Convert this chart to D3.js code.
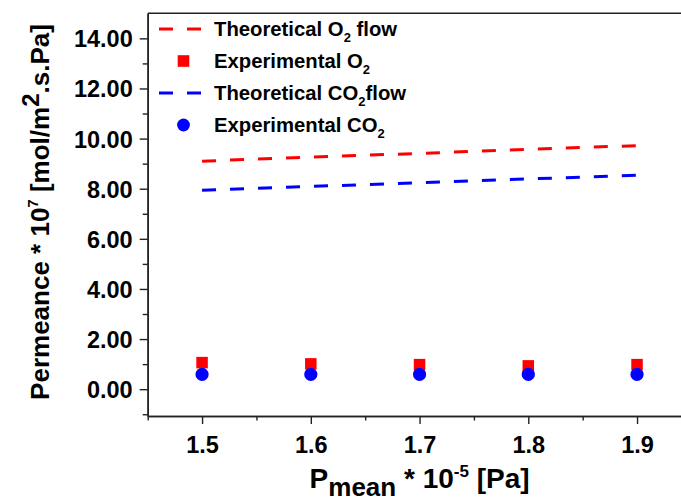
<!DOCTYPE html>
<html><head><meta charset="utf-8">
<script src="https://cdn.jsdelivr.net/npm/d3@7"></script>
<style>
body{margin:0;background:#fff}
text{font-family:Arial,"Liberation Sans",sans-serif;font-weight:bold;fill:#000}
</style>
</head><body><svg id="c" width="681" height="502"></svg>
<script>
// ---- data ----
const pressures = [1.5, 1.6, 1.7, 1.8, 1.9];
const theoO2    = [9.10, 9.26, 9.41, 9.57, 9.72];
const theoCO2   = [7.94, 8.09, 8.24, 8.39, 8.54];
const expO2     = [1.06, 1.01, 0.98, 0.93, 0.98];
const expCO2    = [0.59, 0.59, 0.59, 0.59, 0.59];
const yTickVals = [0, 2, 4, 6, 8, 10, 12, 14];
const yMinorVals = [-1, 1, 3, 5, 7, 9, 11, 13];
const xTickVals = [1.5, 1.6, 1.7, 1.8, 1.9];
const xMinorVals = [1.45, 1.55, 1.65, 1.75, 1.85, 1.95];

const RED = "#ff0000", BLUE = "#0000ff";
const svg = d3.select("#c");

const x = d3.scaleLinear().domain([1.45, 1.95]).range([147.7, 691.4]);
const y = d3.scaleLinear().domain([-1.07, 15]).range([416, 13.3]);

// axes
const gx = svg.append("g").attr("transform", `translate(0,${y(-1.07)})`)
  .call(d3.axisBottom(x).tickValues(xTickVals).tickFormat(d3.format(".1f")).tickSize(8).tickSizeOuter(0));
const gxm = svg.append("g").attr("transform", `translate(0,${y(-1.07)})`)
  .call(d3.axisBottom(x).tickValues(xMinorVals).tickFormat("").tickSize(4.5).tickSizeOuter(0));
const gy = svg.append("g").attr("transform", `translate(${x(1.45)},0)`)
  .call(d3.axisLeft(y).tickValues(yTickVals).tickFormat(d3.format(".2f")).tickSize(8).tickSizeOuter(0));
const gym = svg.append("g").attr("transform", `translate(${x(1.45)},0)`)
  .call(d3.axisLeft(y).tickValues(yMinorVals).tickFormat("").tickSize(5).tickSizeOuter(0));
// top frame
svg.append("line").attr("x1", x(1.45)).attr("x2", x(1.95)).attr("y1", y(15)).attr("y2", y(15))
  .attr("stroke", "#222").attr("stroke-width", 1.6);

[gx, gxm, gy, gym].forEach(g => {
  g.selectAll("path.domain").attr("stroke", "#222").attr("stroke-width", 1.6);
  g.selectAll(".tick line").attr("stroke", "#222").attr("stroke-width", 1.4);
  g.selectAll(".tick text").style("font-size", "23.5px").style("font-family", "Arial, 'Liberation Sans', sans-serif").style("font-weight", "bold").attr("fill", "#000");
});
gx.selectAll(".tick text").attr("dy", "0").attr("y", 37);
gy.selectAll(".tick text").attr("x", -15).attr("dy", "0.36em");

// theoretical lines
const line = vals => d3.line().x((d, i) => x(pressures[i])).y(d => y(d))(vals);
svg.append("path").attr("d", line(theoO2)).attr("fill", "none").attr("stroke", RED)
  .attr("stroke-width", 3).attr("stroke-dasharray", "14,14");
svg.append("path").attr("d", line(theoCO2)).attr("fill", "none").attr("stroke", BLUE)
  .attr("stroke-width", 3).attr("stroke-dasharray", "14,14");

// experimental markers
const sq = 11.5;
svg.append("g").selectAll("rect").data(expO2).join("rect")
  .attr("x", (d, i) => x(pressures[i]) - sq / 2).attr("y", d => y(d) - sq / 2)
  .attr("width", sq).attr("height", sq).attr("fill", RED);
svg.append("g").selectAll("circle").data(expCO2).join("circle")
  .attr("cx", (d, i) => x(pressures[i])).attr("cy", d => y(d)).attr("r", 6.6).attr("fill", BLUE);

// legend
const legend = [
  {type: "line", color: RED,  parts: ["Theoretical O", "2", " flow"]},
  {type: "square", color: RED, parts: ["Experimental O", "2", ""]},
  {type: "line", color: BLUE, parts: ["Theoretical CO", "2", "flow"]},
  {type: "circle", color: BLUE, parts: ["Experimental CO", "2", ""]}
];
const lg = svg.append("g");
legend.forEach((e, i) => {
  const by = 36 + i * 32;
  const cy = by - 7;
  if (e.type === "line") {
    lg.append("line").attr("x1", 159).attr("x2", 201).attr("y1", cy).attr("y2", cy)
      .attr("stroke", e.color).attr("stroke-width", 3).attr("stroke-dasharray", "14,14");
  } else if (e.type === "square") {
    lg.append("rect").attr("x", 183.5 - 5.8).attr("y", cy - 5.8).attr("width", 11.6).attr("height", 11.6).attr("fill", e.color);
  } else {
    lg.append("circle").attr("cx", 183.5).attr("cy", cy).attr("r", 6.4).attr("fill", e.color);
  }
  const t = lg.append("text").attr("x", 214).attr("y", by).style("font-size", "20.3px");
  t.append("tspan").text(e.parts[0]);
  t.append("tspan").text(e.parts[1]).style("font-size", "13px").attr("dy", 6);
  if (e.parts[2]) t.append("tspan").text(e.parts[2]).attr("dy", -6);
});

// x title
const xt = svg.append("text").attr("x", 419.6).attr("y", 488).attr("text-anchor", "middle").style("font-size", "28px");
xt.append("tspan").text("P");
xt.append("tspan").text("mean").style("font-size", "26px").attr("dy", 8);
xt.append("tspan").text(" * 10").attr("dy", -8);
xt.append("tspan").text("-5").style("font-size", "17px").attr("dy", -11);
xt.append("tspan").text(" [Pa]").attr("dy", 11);

// y title
const yt = svg.append("text").attr("transform", "translate(49,212) rotate(-90)").attr("text-anchor", "middle").style("font-size", "26px");
yt.append("tspan").text("Permeance * 10");
yt.append("tspan").text("7").style("font-size", "15px").attr("dy", -11);
yt.append("tspan").text(" [mol/m").attr("dy", 11);
yt.append("tspan").text("2").style("font-size", "24px").attr("dy", -10);
yt.append("tspan").text(".s.Pa]").attr("dy", 10);
</script>
</body></html>
